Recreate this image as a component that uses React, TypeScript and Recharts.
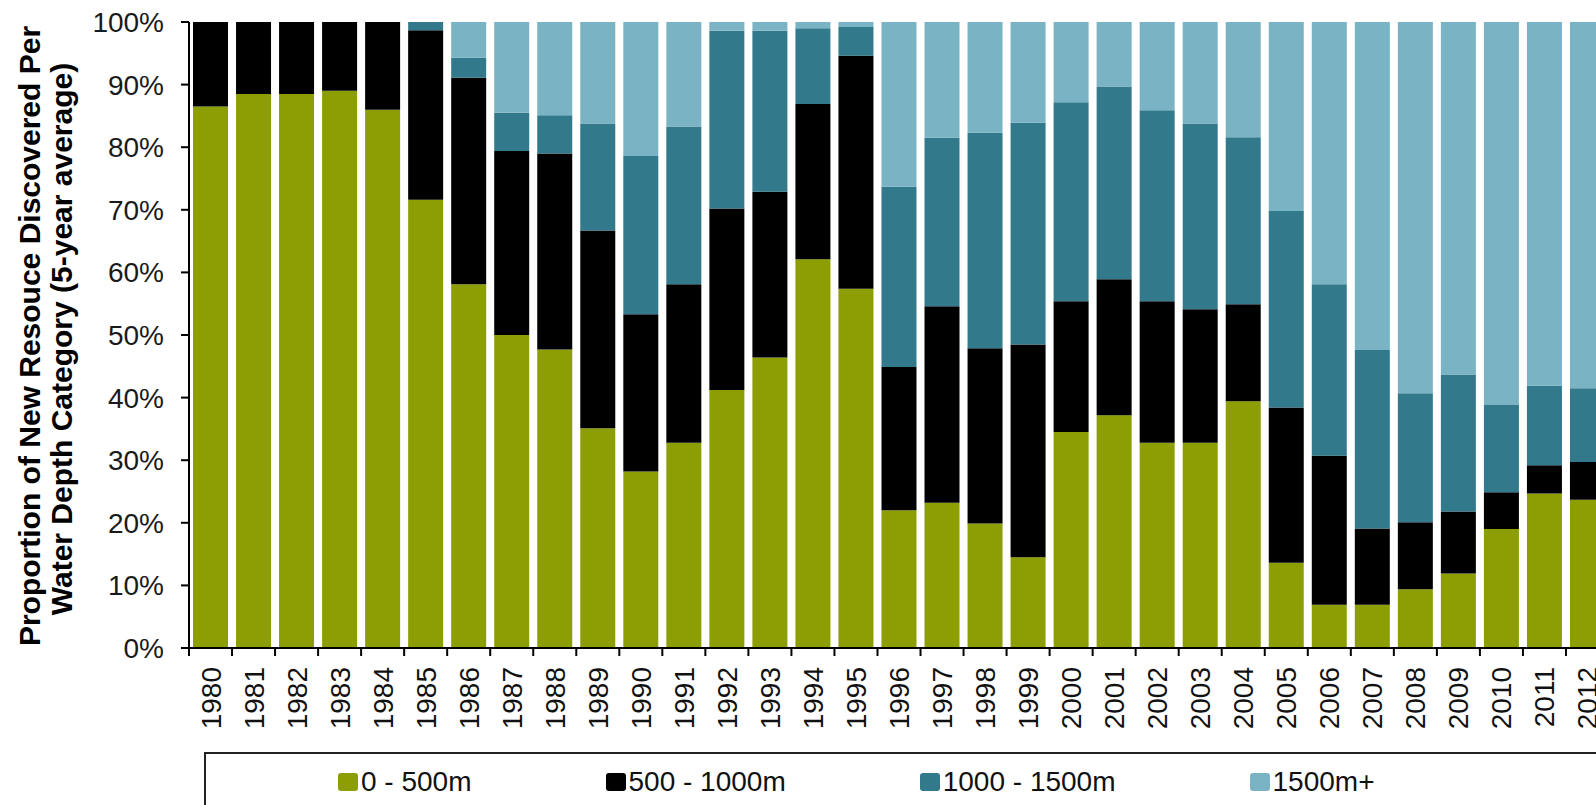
import React from "react";
import { BarChart, Bar, XAxis, YAxis, Label } from "recharts";

// Proportion of new resource per water-depth band, 5-year average (%)
const years = [
  "1980", "1981", "1982", "1983", "1984", "1985", "1986", "1987", "1988", "1989", "1990",
  "1991", "1992", "1993", "1994", "1995", "1996", "1997", "1998", "1999", "2000", "2001",
  "2002", "2003", "2004", "2005", "2006", "2007", "2008", "2009", "2010", "2011", "2012",
];

const shallow = [
  86.5, 88.5, 88.5, 89.0, 86.0, 71.6, 58.1, 50.0, 47.7, 35.1, 28.2,
  32.8, 41.2, 46.4, 62.1, 57.4, 22.0, 23.2, 19.9, 14.5, 34.5, 37.2,
  32.8, 32.8, 39.4, 13.6, 6.9, 6.9, 9.4, 11.9, 19.0, 24.7, 23.7,
];
const mid = [
  13.5, 11.5, 11.5, 11.0, 14.0, 27.1, 33.0, 29.4, 31.3, 31.6, 25.1,
  25.3, 29.0, 26.5, 24.8, 37.2, 22.9, 31.4, 28.0, 34.0, 20.9, 21.7,
  22.6, 21.3, 15.5, 24.8, 23.8, 12.2, 10.7, 9.9, 5.9, 4.5, 6.0,
];
const deep = [
  0, 0, 0, 0, 0, 1.3, 3.2, 6.1, 6.1, 17.1, 25.3,
  25.2, 28.4, 25.7, 12.1, 4.6, 28.8, 26.9, 34.4, 35.4, 31.8, 30.8,
  30.5, 29.7, 26.7, 31.4, 27.4, 28.5, 20.6, 21.9, 13.9, 12.7, 11.8,
];
const ultraDeep = [
  0, 0, 0, 0, 0, 0, 5.7, 14.5, 14.9, 16.2, 21.4,
  16.7, 1.4, 1.4, 1.0, 0.8, 26.3, 18.5, 17.7, 16.1, 12.8, 10.3,
  14.1, 16.2, 18.4, 30.2, 41.9, 52.4, 59.3, 56.3, 61.2, 58.1, 58.5,
];

const yTicks = [0, 10, 20, 30, 40, 50, 60, 70, 80, 90, 100];

const SERIES = [
  { key: "d0", name: "0 - 500m", color: "#8c9e04" },
  { key: "d1", name: "500 - 1000m", color: "#000000" },
  { key: "d2", name: "1000 - 1500m", color: "#31798b" },
  { key: "d3", name: "1500m+", color: "#7ab3c4" },
];

const data = years.map((year, i) => ({
  year,
  d0: shallow[i],
  d1: mid[i],
  d2: deep[i],
  d3: ultraDeep[i],
}));

const FONT = "'Liberation Sans', Arial, sans-serif";

function YearTick(props: any) {
  const { x, y, payload } = props;
  const half = payload && payload.offset ? payload.offset : 21.5;
  const ly = y + 19;
  return (
    <g>
      <line x1={x - half} x2={x - half} y1={y} y2={y + 8} stroke="#000" strokeWidth={2} />
      <text
        x={x}
        y={ly}
        dy={10}
        transform={`rotate(-90, ${x}, ${ly})`}
        textAnchor="end"
        fontSize={28}
        fontFamily={FONT}
        fill="#111"
      >
        {payload.value}
      </text>
    </g>
  );
}

function YTitle(props: any) {
  const vb = props.viewBox || { x: 0, y: 22, width: 189, height: 626 };
  const cy = vb.y + vb.height / 2;
  const x1 = vb.x + 40;
  const x2 = vb.x + 72;
  return (
    <g fontFamily={FONT} fontWeight="bold" fontSize={30} fill="#000">
      <text x={x1} y={cy + 1} textAnchor="middle" transform={`rotate(-90, ${x1}, ${cy + 1})`}>
        Proportion of New Resouce Discovered Per
      </text>
      <text x={x2} y={cy + 4} textAnchor="middle" transform={`rotate(-90, ${x2}, ${cy + 4})`}>
        Water Depth Category (5-year average)
      </text>
    </g>
  );
}

export default function App() {
  return (
    <div
      style={{
        position: "absolute",
        left: 0,
        top: 0,
        width: 1596,
        height: 805,
        overflow: "hidden",
        background: "#fff",
      }}
    >
      <BarChart
        width={1630}
        height={805}
        data={data}
        margin={{ top: 22, right: 21, bottom: 0, left: 0 }}
        barSize={35}
      >
        <XAxis
          dataKey="year"
          interval={0}
          height={157}
          tickLine={false}
          tickSize={0}
          tickMargin={0}
          axisLine={{ stroke: "#000", strokeWidth: 2 }}
          tick={<YearTick />}
        />
        <YAxis
          type="number"
          domain={[0, 100]}
          ticks={yTicks}
          interval={0}
          width={189}
          tickSize={8}
          tickMargin={17}
          tickFormatter={(v) => `${v}%`}
          axisLine={{ stroke: "#000", strokeWidth: 2 }}
          tickLine={{ stroke: "#000", strokeWidth: 2 }}
          tick={{ fontSize: 28, fontFamily: FONT, fill: "#1a1a1a" }}
        >
          <Label content={<YTitle />} />
        </YAxis>
        {SERIES.map((s) => (
          <Bar
            key={s.key}
            dataKey={s.key}
            name={s.name}
            stackId="depth"
            fill={s.color}
            isAnimationActive={false}
          />
        ))}
      </BarChart>

      <div
        style={{
          position: "absolute",
          left: 204,
          top: 752,
          width: 1298,
          height: 100,
          border: "2px solid #222",
          display: "flex",
          alignItems: "flex-start",
          paddingLeft: 132,
          paddingTop: 14,
          gap: 134,
          boxSizing: "content-box",
          fontFamily: FONT,
          fontSize: 28,
          lineHeight: "28px",
          color: "#111",
        }}
      >
        {SERIES.map((s) => (
          <div key={s.key} style={{ display: "flex", alignItems: "center", height: 28 }}>
            <span
              style={{
                display: "inline-block",
                width: 20,
                height: 18,
                borderRadius: 3,
                background: s.color,
                marginRight: 3,
              }}
            />
            <span>{s.name}</span>
          </div>
        ))}
      </div>
    </div>
  );
}
